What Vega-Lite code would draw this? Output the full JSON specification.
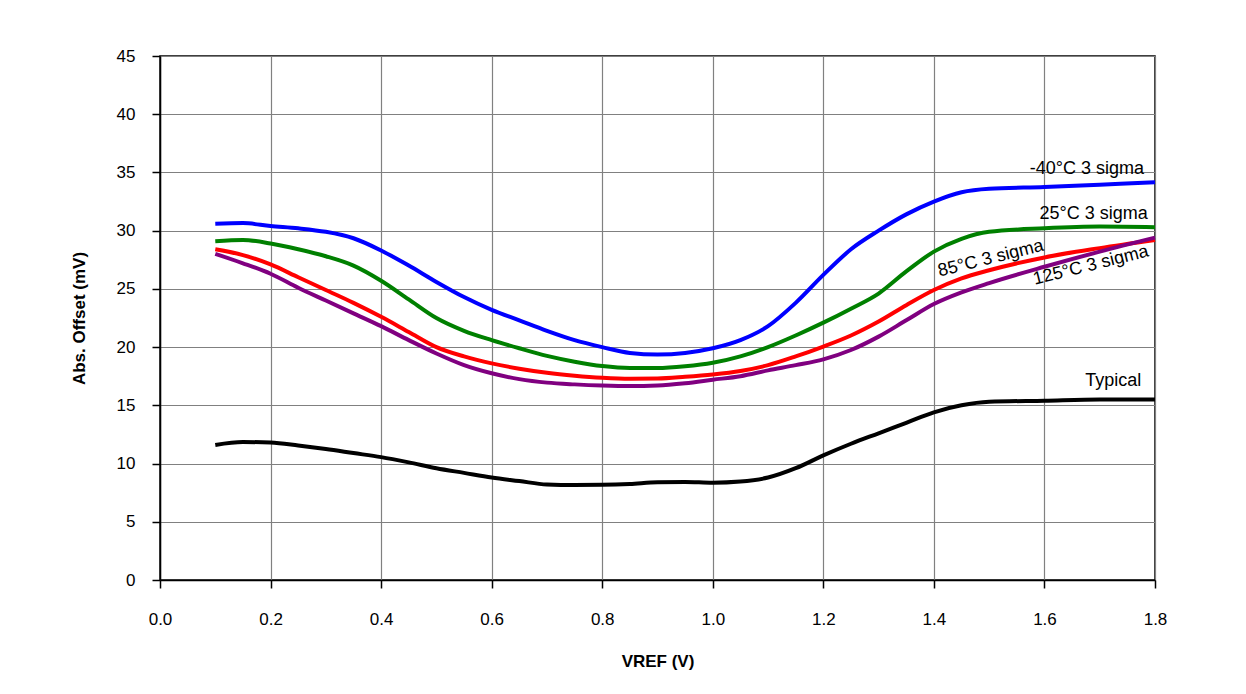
{
  "$schema": "https://vega.github.io/schema/vega-lite/v6.json",
  "autosize": "none",
  "width": 995,
  "height": 524,
  "padding": {"left": 160, "top": 56, "right": 91, "bottom": 114},
  "background": "white",
  "config": {
    "font": "Liberation Sans",
    "view": {"stroke": "black", "strokeWidth": 1.5},
    "axis": {
      "labelFont": "Liberation Sans",
      "labelFontSize": 17,
      "labelColor": "black",
      "labelFlush": false,
      "titleFont": "Liberation Sans",
      "titleFontSize": 17,
      "titleFontWeight": "bold",
      "titleColor": "black",
      "domainColor": "black",
      "domainWidth": 1.5,
      "tickColor": "black",
      "tickWidth": 1.5,
      "tickSize": 8,
      "gridColor": "#808080",
      "gridWidth": 1.2,
      "gridOpacity": 1
    }
  },
  "datasets": {
    "curves": [
      {"series": "-40", "v": 0.1, "mv": 30.6}, {"series": "-40", "v": 0.15, "mv": 30.65}, {"series": "-40", "v": 0.2, "mv": 30.4}, {"series": "-40", "v": 0.25, "mv": 30.2}, {"series": "-40", "v": 0.3, "mv": 29.9}, {"series": "-40", "v": 0.35, "mv": 29.35}, {"series": "-40", "v": 0.4, "mv": 28.3}, {"series": "-40", "v": 0.45, "mv": 27.0}, {"series": "-40", "v": 0.5, "mv": 25.6}, {"series": "-40", "v": 0.55, "mv": 24.3}, {"series": "-40", "v": 0.6, "mv": 23.2}, {"series": "-40", "v": 0.65, "mv": 22.3}, {"series": "-40", "v": 0.7, "mv": 21.4}, {"series": "-40", "v": 0.75, "mv": 20.6}, {"series": "-40", "v": 0.8, "mv": 20.0}, {"series": "-40", "v": 0.85, "mv": 19.5}, {"series": "-40", "v": 0.9, "mv": 19.37}, {"series": "-40", "v": 0.95, "mv": 19.5}, {"series": "-40", "v": 1.0, "mv": 19.9}, {"series": "-40", "v": 1.05, "mv": 20.6}, {"series": "-40", "v": 1.1, "mv": 21.8}, {"series": "-40", "v": 1.15, "mv": 23.8}, {"series": "-40", "v": 1.2, "mv": 26.2}, {"series": "-40", "v": 1.25, "mv": 28.4}, {"series": "-40", "v": 1.3, "mv": 30.0}, {"series": "-40", "v": 1.35, "mv": 31.4}, {"series": "-40", "v": 1.4, "mv": 32.5}, {"series": "-40", "v": 1.45, "mv": 33.3}, {"series": "-40", "v": 1.5, "mv": 33.6}, {"series": "-40", "v": 1.6, "mv": 33.75}, {"series": "-40", "v": 1.7, "mv": 33.95}, {"series": "-40", "v": 1.8, "mv": 34.15},
      {"series": "25", "v": 0.1, "mv": 29.1}, {"series": "25", "v": 0.15, "mv": 29.2}, {"series": "25", "v": 0.2, "mv": 28.9}, {"series": "25", "v": 0.25, "mv": 28.4}, {"series": "25", "v": 0.3, "mv": 27.8}, {"series": "25", "v": 0.35, "mv": 27.0}, {"series": "25", "v": 0.4, "mv": 25.7}, {"series": "25", "v": 0.45, "mv": 24.1}, {"series": "25", "v": 0.5, "mv": 22.5}, {"series": "25", "v": 0.55, "mv": 21.4}, {"series": "25", "v": 0.6, "mv": 20.6}, {"series": "25", "v": 0.65, "mv": 19.9}, {"series": "25", "v": 0.7, "mv": 19.25}, {"series": "25", "v": 0.75, "mv": 18.75}, {"series": "25", "v": 0.8, "mv": 18.37}, {"series": "25", "v": 0.85, "mv": 18.2}, {"series": "25", "v": 0.9, "mv": 18.2}, {"series": "25", "v": 0.95, "mv": 18.35}, {"series": "25", "v": 1.0, "mv": 18.65}, {"series": "25", "v": 1.05, "mv": 19.2}, {"series": "25", "v": 1.1, "mv": 20.0}, {"series": "25", "v": 1.15, "mv": 21.0}, {"series": "25", "v": 1.2, "mv": 22.1}, {"series": "25", "v": 1.25, "mv": 23.3}, {"series": "25", "v": 1.3, "mv": 24.6}, {"series": "25", "v": 1.35, "mv": 26.5}, {"series": "25", "v": 1.4, "mv": 28.2}, {"series": "25", "v": 1.45, "mv": 29.3}, {"series": "25", "v": 1.5, "mv": 29.9}, {"series": "25", "v": 1.6, "mv": 30.2}, {"series": "25", "v": 1.7, "mv": 30.35}, {"series": "25", "v": 1.8, "mv": 30.3},
      {"series": "85", "v": 0.1, "mv": 28.4}, {"series": "85", "v": 0.15, "mv": 27.9}, {"series": "85", "v": 0.2, "mv": 27.1}, {"series": "85", "v": 0.25, "mv": 26.0}, {"series": "85", "v": 0.3, "mv": 24.9}, {"series": "85", "v": 0.35, "mv": 23.8}, {"series": "85", "v": 0.4, "mv": 22.6}, {"series": "85", "v": 0.45, "mv": 21.3}, {"series": "85", "v": 0.5, "mv": 20.0}, {"series": "85", "v": 0.55, "mv": 19.2}, {"series": "85", "v": 0.6, "mv": 18.6}, {"series": "85", "v": 0.65, "mv": 18.15}, {"series": "85", "v": 0.7, "mv": 17.8}, {"series": "85", "v": 0.75, "mv": 17.55}, {"series": "85", "v": 0.8, "mv": 17.37}, {"series": "85", "v": 0.85, "mv": 17.28}, {"series": "85", "v": 0.9, "mv": 17.3}, {"series": "85", "v": 0.95, "mv": 17.45}, {"series": "85", "v": 1.0, "mv": 17.65}, {"series": "85", "v": 1.05, "mv": 17.95}, {"series": "85", "v": 1.1, "mv": 18.45}, {"series": "85", "v": 1.15, "mv": 19.2}, {"series": "85", "v": 1.2, "mv": 20.05}, {"series": "85", "v": 1.25, "mv": 21.0}, {"series": "85", "v": 1.3, "mv": 22.2}, {"series": "85", "v": 1.35, "mv": 23.6}, {"series": "85", "v": 1.4, "mv": 24.9}, {"series": "85", "v": 1.45, "mv": 25.9}, {"series": "85", "v": 1.5, "mv": 26.6}, {"series": "85", "v": 1.6, "mv": 27.7}, {"series": "85", "v": 1.7, "mv": 28.5}, {"series": "85", "v": 1.8, "mv": 29.2},
      {"series": "125", "v": 0.1, "mv": 28.0}, {"series": "125", "v": 0.15, "mv": 27.2}, {"series": "125", "v": 0.2, "mv": 26.3}, {"series": "125", "v": 0.25, "mv": 25.1}, {"series": "125", "v": 0.3, "mv": 24.0}, {"series": "125", "v": 0.35, "mv": 22.9}, {"series": "125", "v": 0.4, "mv": 21.8}, {"series": "125", "v": 0.45, "mv": 20.6}, {"series": "125", "v": 0.5, "mv": 19.45}, {"series": "125", "v": 0.55, "mv": 18.45}, {"series": "125", "v": 0.6, "mv": 17.75}, {"series": "125", "v": 0.65, "mv": 17.25}, {"series": "125", "v": 0.7, "mv": 16.95}, {"series": "125", "v": 0.75, "mv": 16.8}, {"series": "125", "v": 0.8, "mv": 16.7}, {"series": "125", "v": 0.85, "mv": 16.65}, {"series": "125", "v": 0.9, "mv": 16.7}, {"series": "125", "v": 0.95, "mv": 16.9}, {"series": "125", "v": 1.0, "mv": 17.2}, {"series": "125", "v": 1.05, "mv": 17.5}, {"series": "125", "v": 1.1, "mv": 18.0}, {"series": "125", "v": 1.15, "mv": 18.45}, {"series": "125", "v": 1.2, "mv": 18.95}, {"series": "125", "v": 1.25, "mv": 19.75}, {"series": "125", "v": 1.3, "mv": 20.9}, {"series": "125", "v": 1.35, "mv": 22.3}, {"series": "125", "v": 1.4, "mv": 23.7}, {"series": "125", "v": 1.45, "mv": 24.7}, {"series": "125", "v": 1.5, "mv": 25.5}, {"series": "125", "v": 1.6, "mv": 26.9}, {"series": "125", "v": 1.7, "mv": 28.2}, {"series": "125", "v": 1.8, "mv": 29.4},
      {"series": "typ", "v": 0.1, "mv": 11.6}, {"series": "typ", "v": 0.15, "mv": 11.85}, {"series": "typ", "v": 0.2, "mv": 11.8}, {"series": "typ", "v": 0.25, "mv": 11.55}, {"series": "typ", "v": 0.3, "mv": 11.25}, {"series": "typ", "v": 0.35, "mv": 10.9}, {"series": "typ", "v": 0.4, "mv": 10.55}, {"series": "typ", "v": 0.45, "mv": 10.1}, {"series": "typ", "v": 0.5, "mv": 9.6}, {"series": "typ", "v": 0.55, "mv": 9.2}, {"series": "typ", "v": 0.6, "mv": 8.8}, {"series": "typ", "v": 0.65, "mv": 8.5}, {"series": "typ", "v": 0.7, "mv": 8.2}, {"series": "typ", "v": 0.75, "mv": 8.15}, {"series": "typ", "v": 0.8, "mv": 8.17}, {"series": "typ", "v": 0.85, "mv": 8.25}, {"series": "typ", "v": 0.9, "mv": 8.4}, {"series": "typ", "v": 0.95, "mv": 8.42}, {"series": "typ", "v": 1.0, "mv": 8.35}, {"series": "typ", "v": 1.05, "mv": 8.45}, {"series": "typ", "v": 1.1, "mv": 8.8}, {"series": "typ", "v": 1.15, "mv": 9.6}, {"series": "typ", "v": 1.2, "mv": 10.7}, {"series": "typ", "v": 1.25, "mv": 11.7}, {"series": "typ", "v": 1.3, "mv": 12.6}, {"series": "typ", "v": 1.35, "mv": 13.5}, {"series": "typ", "v": 1.4, "mv": 14.4}, {"series": "typ", "v": 1.45, "mv": 15.0}, {"series": "typ", "v": 1.5, "mv": 15.3}, {"series": "typ", "v": 1.6, "mv": 15.4}, {"series": "typ", "v": 1.7, "mv": 15.5}, {"series": "typ", "v": 1.8, "mv": 15.5}
    ],
    "labels": [
      {"label": "-40°C 3 sigma", "v": 1.78, "mv": 35.3},
      {"label": "25°C 3 sigma", "v": 1.787, "mv": 31.4},
      {"label": "Typical", "v": 1.775, "mv": 17.1}
    ],
    "rotlabels": [
      {"label": "85°C 3 sigma", "v": 1.503, "mv": 27.6},
      {"label": "125°C 3 sigma", "v": 1.684, "mv": 27.0}
    ]
  },
  "layer": [
    {
      "data": {"name": "curves"},
      "mark": {"type": "line", "strokeWidth": 4, "interpolate": "monotone"},
      "encoding": {
        "x": {
          "field": "v", "type": "quantitative",
          "scale": {"domain": [0, 1.8], "nice": false, "zero": false},
          "axis": {
            "values": [0, 0.2, 0.4, 0.6, 0.8, 1.0, 1.2, 1.4, 1.6, 1.8],
            "format": ".1f",
            "labelPadding": 23,
            "title": "VREF (V)",
            "titlePadding": 26
          }
        },
        "y": {
          "field": "mv", "type": "quantitative",
          "scale": {"domain": [0, 45], "nice": false},
          "axis": {
            "values": [0, 5, 10, 15, 20, 25, 30, 35, 40, 45],
            "labelPadding": 17,
            "title": "Abs. Offset (mV)",
            "titlePadding": 28
          }
        },
        "color": {
          "field": "series", "type": "nominal",
          "scale": {"domain": ["-40", "25", "85", "125", "typ"], "range": ["#0000FF", "#008000", "#FF0000", "#800080", "#000000"]},
          "legend": null
        },
        "order": {"field": "v", "type": "quantitative"}
      }
    },
    {
      "data": {"name": "labels"},
      "mark": {"type": "text", "align": "right", "baseline": "middle", "fontSize": 18, "font": "Liberation Sans", "color": "black"},
      "encoding": {
        "x": {"field": "v", "type": "quantitative"},
        "y": {"field": "mv", "type": "quantitative"},
        "text": {"field": "label"}
      }
    },
    {
      "data": {"name": "rotlabels"},
      "mark": {"type": "text", "align": "center", "baseline": "middle", "fontSize": 18, "font": "Liberation Sans", "color": "black", "angle": -14},
      "encoding": {
        "x": {"field": "v", "type": "quantitative"},
        "y": {"field": "mv", "type": "quantitative"},
        "text": {"field": "label"}
      }
    }
  ]
}
